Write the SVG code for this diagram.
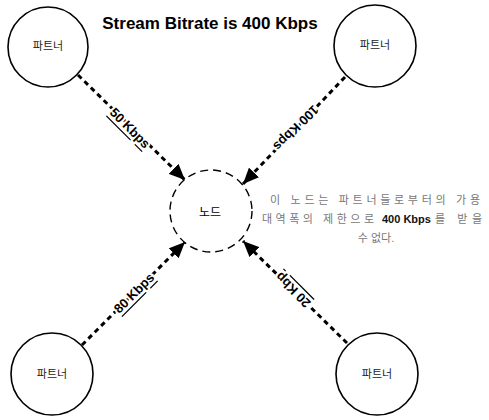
<svg xmlns="http://www.w3.org/2000/svg" width="489" height="420" viewBox="0 0 489 420">
<style>
.partner{fill:#fff;stroke:#000;stroke-width:1.6}
.node{fill:#fff;stroke:#000;stroke-width:1.4;stroke-dasharray:8 5}
.lbl{font-family:"Liberation Sans","Noto Sans CJK KR",sans-serif;font-size:11px;fill:#222;text-anchor:middle}
.conn{stroke:#000;stroke-width:3;stroke-dasharray:5 4;fill:none;marker-end:url(#ah)}
.rate{font-family:"Liberation Sans",Arial,sans-serif;font-size:13px;font-weight:bold;fill:#000;text-anchor:middle;dominant-baseline:central;stroke:#fff;stroke-width:4;paint-order:stroke fill}
.u{text-decoration:underline}
.note{font-family:"Liberation Sans","Noto Sans CJK KR",sans-serif;font-size:11px;fill:#777}
.notek{font-family:"Liberation Sans",Arial,sans-serif;font-size:11px;font-weight:bold;fill:#111}
</style>
<defs>
<marker id="ah" markerUnits="userSpaceOnUse" markerWidth="16" markerHeight="14" refX="16" refY="7" orient="auto">
<path d="M0,0 L16,7 L0,14 Z" fill="#000"/>
</marker>
</defs>
<rect width="489" height="420" fill="#fff"/>
<text x="210" y="29" font-family="'Liberation Sans',Arial,sans-serif" font-size="17" font-weight="bold" text-anchor="middle" fill="#000">Stream Bitrate is 400 Kbps</text>
<g id="connectors">
<line class="conn" x1="78" y1="75" x2="185" y2="180"/>
<line class="conn" x1="345" y1="77" x2="243" y2="184"/>
<line class="conn" x1="82" y1="345" x2="185" y2="242"/>
<line class="conn" x1="347" y1="343" x2="243" y2="241"/>
<text class="rate u" transform="translate(130,128) rotate(45)">50 Kbps</text>
<text class="rate" transform="translate(296,128) rotate(135)">100 Kbps</text>
<text class="rate u" transform="translate(134,293) rotate(-45)">80 Kbps</text>
<text class="rate u" transform="translate(293,290) rotate(-135)">20 Kbp</text>
</g>
<g id="partner-tl"><circle class="partner" cx="48" cy="47" r="40"/><text class="lbl" x="48" y="50">파트너</text></g>
<g id="partner-tr"><circle class="partner" cx="375" cy="46" r="41"/><text class="lbl" x="375" y="49">파트너</text></g>
<g id="partner-bl"><circle class="partner" cx="52" cy="374" r="41"/><text class="lbl" x="52" y="378">파트너</text></g>
<g id="partner-br"><circle class="partner" cx="377" cy="374" r="41"/><text class="lbl" x="377" y="378">파트너</text></g>
<g id="node"><circle class="node" cx="211" cy="211" r="41"/><text class="lbl" x="210" y="217" style="font-size:12px;fill:#000">노드</text></g>
<g id="note">
<text class="note" x="270" y="204" textLength="210" lengthAdjust="spacing">이 노드는 파트너들로부터의 가용</text>
<text class="note" x="262" y="223" textLength="112" lengthAdjust="spacing">대역폭의 제한으로</text>
<text class="notek" x="382" y="223">400 Kbps</text>
<text class="note" x="435" y="223" textLength="47" lengthAdjust="spacing">를 받을</text>
<text class="note" x="376" y="242" text-anchor="middle">수 없다.</text>
</g>
</svg>
